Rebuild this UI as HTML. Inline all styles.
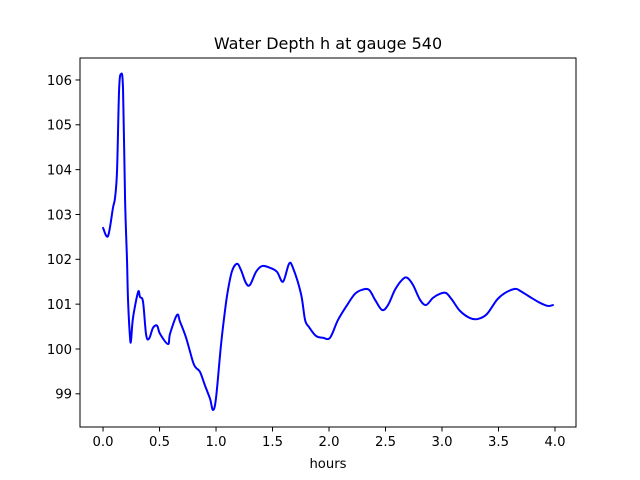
<!DOCTYPE html>
<html><head><meta charset="utf-8"><style>
body{margin:0;background:#fff;}
svg{display:block;font-family:"DejaVu Sans","Liberation Sans",sans-serif;}
</style></head><body>
<svg id="chart" width="640" height="480" viewBox="0 0 640 480"></svg>
<script>
const hours=[0,0.044,0.088,0.106,0.124,0.142,0.159,0.177,0.195,0.212,0.221,0.239,0.248,0.265,0.31,0.327,0.354,0.381,0.407,0.442,0.478,0.504,0.575,0.593,0.655,0.681,0.735,0.796,0.823,0.858,0.903,0.947,0.973,1.0,1.044,1.08,1.106,1.142,1.186,1.221,1.265,1.301,1.354,1.407,1.478,1.54,1.593,1.646,1.681,1.752,1.788,1.823,1.885,1.947,2.009,2.08,2.168,2.23,2.292,2.354,2.407,2.469,2.522,2.584,2.646,2.69,2.743,2.805,2.858,2.92,2.982,3.035,3.088,3.159,3.248,3.319,3.398,3.487,3.558,3.646,3.69,3.779,3.867,3.938,3.982];
const depth=[102.70,102.52,103.15,103.37,103.99,105.78,106.13,105.78,103.32,101.99,101.10,100.25,100.20,100.69,101.27,101.16,101.05,100.32,100.23,100.47,100.52,100.34,100.11,100.34,100.76,100.61,100.25,99.71,99.58,99.49,99.18,98.89,98.64,98.91,100.09,100.87,101.32,101.74,101.90,101.76,101.47,101.43,101.72,101.85,101.81,101.72,101.50,101.90,101.81,101.23,100.65,100.49,100.29,100.25,100.25,100.65,101.01,101.23,101.32,101.32,101.10,100.87,100.98,101.32,101.54,101.59,101.43,101.10,100.98,101.14,101.23,101.25,101.10,100.85,100.69,100.67,100.78,101.10,101.25,101.34,101.30,101.16,101.03,100.96,100.98];
const xTicks=[0,0.5,1,1.5,2,2.5,3,3.5,4];
const xTickLabels=["0.0","0.5","1.0","1.5","2.0","2.5","3.0","3.5","4.0"];
const yTicks=[99,100,101,102,103,104,105,106];
const yTickLabels=["99","100","101","102","103","104","105","106"];
const L=80,R=576,T=58,B=427,xmin=-0.204,xmax=4.186,ymin=98.26,ymax=106.49;
const X=v=>L+(v-xmin)/(xmax-xmin)*(R-L);
const Y=v=>B-(v-ymin)/(ymax-ymin)*(B-T);
const svg=document.getElementById('chart');
const NS='http://www.w3.org/2000/svg';
function mk(t,a){const e=document.createElementNS(NS,t);for(const k in a)e.setAttribute(k,a[k]);svg.appendChild(e);return e;}
const P=hours.map((h,i)=>[X(h),Y(depth[i])]);
let d='M'+P[0][0].toFixed(2)+' '+P[0][1].toFixed(2);
for(let i=0;i<P.length-1;i++){
  const p0=P[Math.max(0,i-1)],p1=P[i],p2=P[i+1],p3=P[Math.min(P.length-1,i+2)];
  const t=0.5/3;
  const c1=[p1[0]+(p2[0]-p0[0])*t,p1[1]+(p2[1]-p0[1])*t];
  const c2=[p2[0]-(p3[0]-p1[0])*t,p2[1]-(p3[1]-p1[1])*t];
  d+=' C'+c1[0].toFixed(2)+' '+c1[1].toFixed(2)+' '+c2[0].toFixed(2)+' '+c2[1].toFixed(2)+' '+p2[0].toFixed(2)+' '+p2[1].toFixed(2);
}
const line=mk('path',{d:d,fill:'none',stroke:'#0000ff','stroke-width':2,'stroke-linejoin':'round','stroke-linecap':'round'});


const frame=mk('rect',{x:L,y:T,width:R-L,height:B-T,fill:'none',stroke:'#000','stroke-width':1});


xTicks.forEach((v,i)=>{
  const tk=mk('line',{x1:X(v),x2:X(v),y1:B,y2:B+4.5,stroke:'#000','stroke-width':1});
  
  
  const t=mk('text',{x:X(v),y:B+19,'text-anchor':'middle','font-size':13.2,fill:'#000'});
  t.textContent=xTickLabels[i];
  
  
});
yTicks.forEach((v,i)=>{
  const tk=mk('line',{x1:L-4.5,x2:L,y1:Y(v),y2:Y(v),stroke:'#000','stroke-width':1});
  
  
  const t=mk('text',{x:L-8,y:Y(v)+4.8,'text-anchor':'end','font-size':13.2,fill:'#000'});
  t.textContent=yTickLabels[i];
  
  
});
const title=mk('text',{x:(L+R)/2,y:49,'text-anchor':'middle','font-size':16,fill:'#000'});
title.textContent='Water Depth h at gauge 540';


const xl=mk('text',{x:(L+R)/2,y:468,'text-anchor':'middle','font-size':13.2,fill:'#000'});
xl.textContent='hours';


</script>
</body></html>
